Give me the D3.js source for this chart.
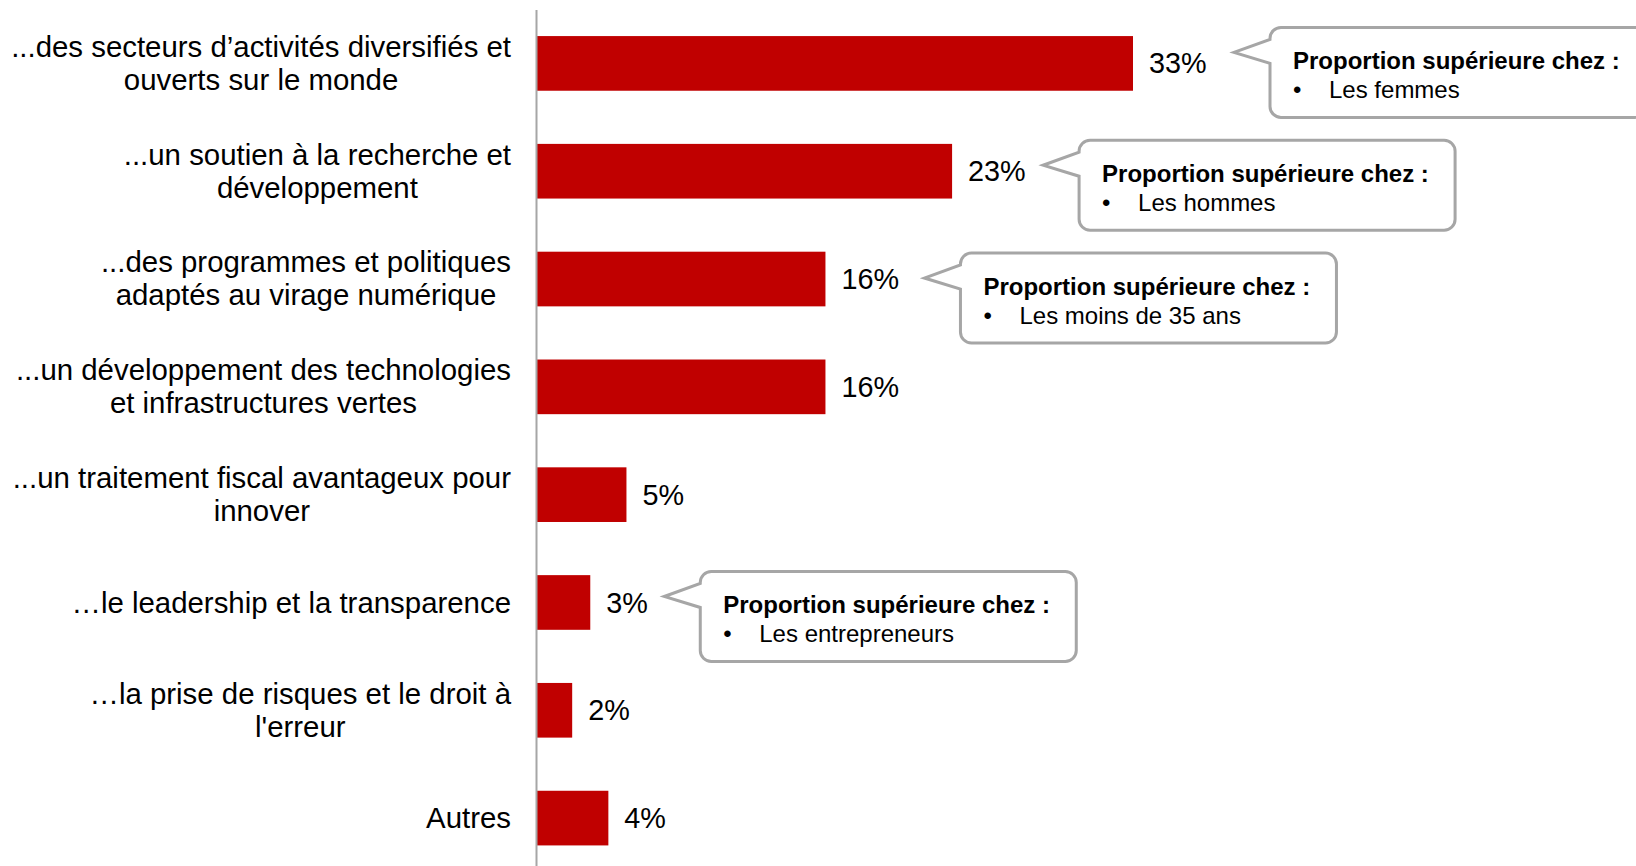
<!DOCTYPE html>
<html>
<head>
<meta charset="utf-8">
<script src="https://cdn.jsdelivr.net/npm/d3@7"></script>
<style>
  html, body { margin: 0; padding: 0; background: #ffffff; overflow: hidden; }
  svg { display: block; font-family: "Liberation Sans", Arial, sans-serif; }
</style>
</head>
<body>
<svg id="chart" width="1636" height="866"></svg>
<script>
// ---------- DATA ----------
const categories = [
  "...des secteurs d’activités diversifiés et\nouverts sur le monde",
  "...un soutien à la recherche et\ndéveloppement",
  "...des programmes et politiques\nadaptés au virage numérique",
  "...un développement des technologies\net infrastructures vertes",
  "...un traitement fiscal avantageux pour\ninnover",
  "…le leadership et la transparence",
  "…la prise de risques et le droit à\nl'erreur",
  "Autres"
];
const values = [33, 23, 16, 16, 5, 3, 2, 4];
const valueLabels = values.map(v => v + "%");

const calloutCategoryIndex = [0, 1, 2, 5];
const calloutTitles = [
  "Proportion supérieure chez :",
  "Proportion supérieure chez :",
  "Proportion supérieure chez :",
  "Proportion supérieure chez :"
];
const calloutItems = ["Les femmes", "Les hommes", "Les moins de 35 ans", "Les entrepreneurs"];

// ---------- LAYOUT (annotation offsets, not data) ----------
const calloutBoxDx = [137, 127, 135, 110];   // box left relative to bar end
const calloutTipDy = [-11, -6, -1, -6];      // pointer tip relative to bar centre

// ---------- CHART ----------
const svg = d3.select("#chart");
const axisX = 536;
const fontCat = 29.4;
const fontVal = 28.8;

const x = d3.scaleLinear().domain([0, 33]).range([axisX, 1133]);
const y = d3.scaleBand()
  .domain(categories)
  .range([9.5, 872])
  .paddingInner(0.493)
  .paddingOuter(0.2465);

// bars
svg.append("g").selectAll("rect")
  .data(categories)
  .join("rect")
  .attr("x", x(0))
  .attr("y", d => y(d))
  .attr("width", (d, i) => x(values[i]) - x(0))
  .attr("height", y.bandwidth())
  .attr("fill", "#c00000");

// axis (vertical line only)
const axisG = svg.append("g")
  .attr("transform", `translate(${axisX},0)`)
  .call(d3.axisLeft(y).tickSize(0).tickSizeOuter(0).tickFormat(""));
axisG.select(".domain").attr("stroke", "#a6a6a6").attr("stroke-width", 2);
axisG.selectAll(".tick").remove();

// category labels
const labelRight = 511;
const labelG = svg.append("g")
  .attr("font-size", fontCat)
  .attr("fill", "#000");
categories.forEach((cat) => {
  const lines = cat.split("\n");
  const cy = y(cat) + y.bandwidth() / 2;
  if (lines.length === 1) {
    labelG.append("text")
      .attr("x", labelRight)
      .attr("y", cy + 0.35 * fontCat)
      .attr("text-anchor", "end")
      .text(lines[0]);
  } else {
    const t1 = labelG.append("text")
      .attr("x", labelRight)
      .attr("y", cy - 17 + 0.35 * fontCat)
      .attr("text-anchor", "end")
      .text(lines[0]);
    const w1 = t1.node().getComputedTextLength();
    labelG.append("text")
      .attr("x", labelRight - w1 / 2)
      .attr("y", cy + 16 + 0.35 * fontCat)
      .attr("text-anchor", "middle")
      .text(lines[1]);
  }
});

// value labels
svg.append("g").selectAll("text")
  .data(categories)
  .join("text")
  .attr("x", (d, i) => x(values[i]) + 16)
  .attr("y", d => y(d) + y.bandwidth() / 2 + 0.35 * fontVal)
  .attr("font-size", fontVal)
  .attr("fill", "#000")
  .text((d, i) => valueLabels[i]);

// callouts
const boxW = 376, boxH = 90, r = 11, fsC = 24;
const calloutG = svg.append("g");
calloutCategoryIndex.forEach((ci, k) => {
  const cat = categories[ci];
  const cy = y(cat) + y.bandwidth() / 2;
  const L = x(values[ci]) + calloutBoxDx[k];
  const tipY = cy + calloutTipDy[k];
  const T = tipY - 25;
  const R = L + boxW, B = T + boxH;
  const tipX = L - 36;
  const p = d3.path();
  p.moveTo(L + r, T);
  p.lineTo(R - r, T);
  p.arcTo(R, T, R, T + r, r);
  p.lineTo(R, B - r);
  p.arcTo(R, B, R - r, B, r);
  p.lineTo(L + r, B);
  p.arcTo(L, B, L, B - r, r);
  p.lineTo(L, T + 36);
  p.lineTo(tipX, tipY);
  p.lineTo(L, T + 12);
  p.lineTo(L, T + r);
  p.arcTo(L, T, L + r, T, r);
  p.closePath();
  calloutG.append("path")
    .attr("d", p.toString())
    .attr("fill", "#ffffff")
    .attr("stroke", "#a6a6a6")
    .attr("stroke-width", 3)
    .attr("stroke-linejoin", "miter");
  calloutG.append("text")
    .attr("x", L + 23)
    .attr("y", T + 42)
    .attr("font-size", fsC)
    .attr("font-weight", "bold")
    .attr("fill", "#000")
    .text(calloutTitles[k]);
  calloutG.append("text")
    .attr("x", L + 23)
    .attr("y", T + 71)
    .attr("font-size", fsC)
    .attr("fill", "#000")
    .text("•");
  calloutG.append("text")
    .attr("x", L + 59)
    .attr("y", T + 71)
    .attr("font-size", fsC)
    .attr("fill", "#000")
    .text(calloutItems[k]);
});
</script>
</body>
</html>
